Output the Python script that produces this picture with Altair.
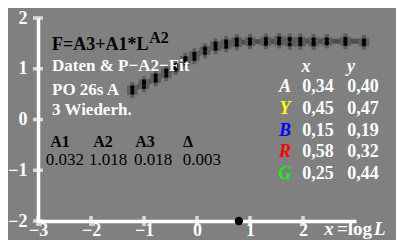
import altair as alt
import pandas as pd

# ---- data ----
pt_x = [-1.22, -1.00, -0.78, -0.58, -0.40, -0.22, -0.05, 0.15, 0.35, 0.55,
        0.75, 1.00, 1.30, 1.55, 1.75, 1.95, 2.20, 2.45, 2.80, 3.15]
rep1 = [0.525, 0.75, 0.76, 0.97, 0.98, 1.21, 1.30, 1.38, 1.50, 1.54,
        1.58, 1.49, 1.59, 1.50, 1.57, 1.48, 1.52, 1.58, 1.49, 1.56]
rep2 = [0.635, 0.64, 0.87, 0.86, 1.07, 1.10, 1.19, 1.40, 1.39, 1.43,
        1.47, 1.58, 1.49, 1.60, 1.48, 1.59, 1.48, 1.50, 1.59, 1.48]
rep3 = [0.585, 0.71, 0.80, 0.93, 1.02, 1.17, 1.25, 1.31, 1.45, 1.50,
        1.53, 1.53, 1.53, 1.54, 1.59, 1.54, 1.58, 1.52, 1.54, 1.53]

fit_x = [-1.25, -1.0, -0.75, -0.5, -0.25, 0.0, 0.25, 0.5, 0.75, 1.0, 1.5, 2.0, 2.5, 3.2]
fit_y = [0.57, 0.70, 0.82, 0.97, 1.14, 1.28, 1.40, 1.48, 1.52, 1.53, 1.54, 1.54, 1.54, 1.54]

x_ticks = [-3, -2, -1, 0, 1, 2]
y_ticks = [-2, -1, 0, 1, 2]

param_names = ["A1", "A2", "A3", "Δ"]
param_values = ["0.032", "1.018", "0.018", "0.003"]

table_letters = ["A", "Y", "B", "R", "G"]
table_colors = ["#ffffff", "#ffff00", "#0000ff", "#ff0000", "#00ff00"]
table_x = ["0,34", "0,45", "0,15", "0,58", "0,25"]
table_y = ["0,40", "0,47", "0,19", "0,32", "0,44"]

marker_x = [0.79]
marker_y = [-2.0]

# ---- tables ----
pts = pd.DataFrame({
    "x": pt_x * 3,
    "y": rep1 + rep2 + rep3,
})
fit = pd.DataFrame({"x": fit_x, "y": fit_y})

XS = alt.Scale(domain=[-3, 3], nice=False, zero=False)
YS = alt.Scale(domain=[-2, 2], nice=False, zero=False)
LF = "Liberation Serif"

XA = alt.Axis(values=x_ticks, title=None, domainColor="white", domainWidth=3.5,
              ticks=False, labelColor="white", labelFont=LF, labelFontSize=18,
              labelFontWeight="bold", labelPadding=0, grid=False, labelFlush=False)
YA = alt.Axis(values=y_ticks, title=None, domainColor="white", domainWidth=3.5,
              ticks=False, labelColor="white", labelFont=LF, labelFontSize=18,
              labelFontWeight="bold", labelPadding=11, grid=False, labelFlush=False)


def enc(chart, **kw):
    return chart.encode(
        x=alt.X("x:Q", scale=XS, axis=XA),
        y=alt.Y("y:Q", scale=YS, axis=YA),
        **kw,
    )


fit_line = enc(alt.Chart(fit).mark_line(color="#4d4d4d", strokeWidth=5,
                                        interpolate="monotone"))
crosses = enc(alt.Chart(pts).mark_point(shape="cross", filled=True,
                                        color="#5e5e5e", size=110, opacity=1))
dots = enc(alt.Chart(pts).mark_circle(color="black", size=18, opacity=1))

yt = pd.DataFrame({"x": [-3] * len(y_ticks), "y": y_ticks})
xt = pd.DataFrame({"x": x_ticks, "y": [-2] * len(x_ticks)})
ytick = enc(alt.Chart(yt).mark_tick(orient="horizontal", color="white",
                                    size=10, thickness=3.5))
xtick = enc(alt.Chart(xt).mark_tick(orient="vertical", color="white",
                                    size=10, thickness=3.5))

marker = enc(alt.Chart(pd.DataFrame({"x": marker_x, "y": marker_y}))
             .mark_circle(color="black", size=70, opacity=1))


# text annotations (positions in data units)
def txt(df, **mk):
    base = dict(font=LF, baseline="middle")
    base.update(mk)
    return enc(alt.Chart(df).mark_text(**base), text="t:N")


t_title = txt(pd.DataFrame({"x": [-2.736], "y": [1.47], "t": ["F=A3+A1*L"]}),
              align="left", fontSize=18, fontWeight="bold", color="black")
t_sup = txt(pd.DataFrame({"x": [-0.90], "y": [1.605], "t": ["A2"]}),
            align="left", fontSize=16, fontWeight="bold", color="black")
t_white = txt(pd.DataFrame({"x": [-2.736] * 3, "y": [1.045, 0.59, 0.18],
                            "t": ["Daten & P−A2−Fit", "PO 26s A", "3 Wiederh."]}),
              align="left", fontSize=17, fontWeight="bold", color="white")
t_pn = txt(pd.DataFrame({"x": [-2.585, -1.774, -0.981, -0.170], "y": [-0.45] * 4,
                         "t": param_names}),
           align="center", fontSize=16, fontWeight="bold", color="black")
t_pv = txt(pd.DataFrame({"x": [-2.491, -1.679, -0.830, 0.094], "y": [-0.795] * 4,
                         "t": param_values}),
           align="center", fontSize=17, color="black")

rows_y = [0.64, 0.21, -0.22, -0.65, -1.08]
t_head = txt(pd.DataFrame({"x": [2.057, 2.906], "y": [1.04, 1.04], "t": ["x", "y"]}),
             align="center", fontSize=18, fontWeight="bold", fontStyle="italic",
             color="white")
t_letters = enc(alt.Chart(pd.DataFrame({"x": [1.66] * 5, "y": rows_y,
                                        "t": table_letters, "c": table_colors}))
                .mark_text(font=LF, baseline="middle", align="center", fontSize=18,
                           fontWeight="bold", fontStyle="italic"),
                text="t:N", color=alt.Color("c:N", scale=None))
t_cols = txt(pd.DataFrame({"x": [2.283] * 5 + [3.132] * 5, "y": rows_y * 2,
                           "t": table_x + table_y}),
             align="center", fontSize=18, fontWeight="bold", color="white")

t_xl1 = txt(pd.DataFrame({"x": [2.40, 3.34], "y": [-2.16, -2.16], "t": ["x", "L"]}),
            align="left", fontSize=19, fontWeight="bold", fontStyle="italic",
            color="white")
t_xl2 = txt(pd.DataFrame({"x": [2.64], "y": [-2.16], "t": ["=log"]}),
            align="left", fontSize=19, fontWeight="bold", color="white")

chart = alt.layer(
    fit_line, crosses, dots, ytick, xtick, marker,
    t_title, t_sup, t_white, t_pn, t_pv, t_head, t_letters, t_cols, t_xl1, t_xl2,
).properties(
    width=318, height=203,
    autosize=alt.AutoSizeParams(type="none"),
    padding={"left": 30, "top": 10, "right": 40, "bottom": 19},
    background="#808080",
).configure_view(stroke=None)

chart.save("out.html", embed_options={"renderer": "svg", "actions": False})
